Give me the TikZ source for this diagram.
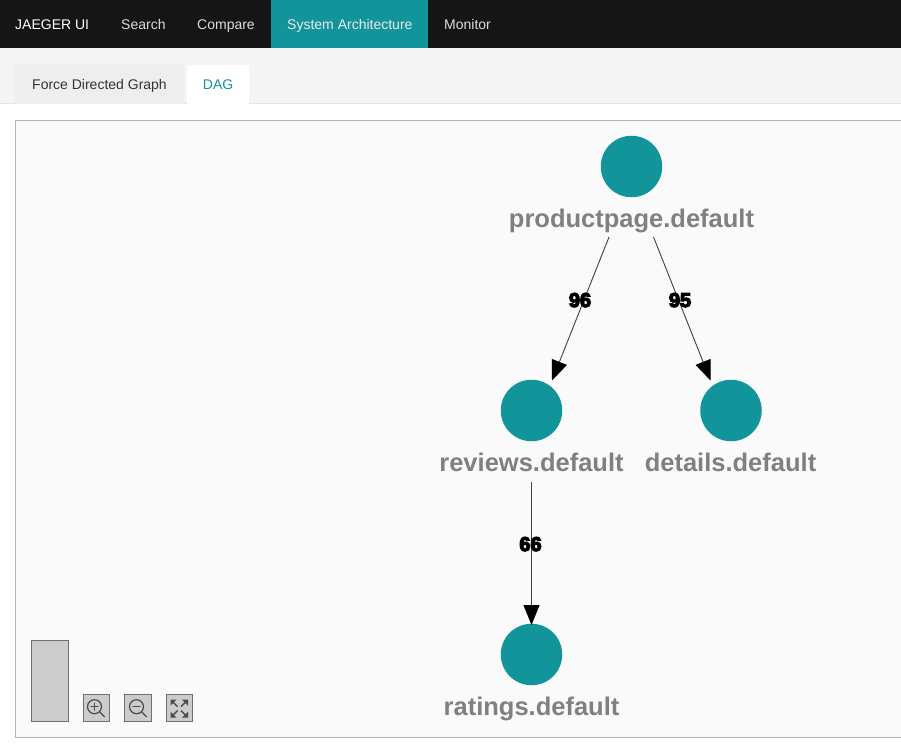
\documentclass[tikz,border=0pt]{standalone}
\usepackage{fontspec}
\setmainfont{Liberation Sans}
\newfontfamily\edgefont[FakeBold=6]{Liberation Sans Bold}
\usetikzlibrary{arrows.meta}
\definecolor{teal1}{HTML}{11949A}
\definecolor{navbg}{HTML}{151515}
\definecolor{subbg}{HTML}{F4F4F4}
\definecolor{tabbg}{HTML}{EEEEEE}
\definecolor{panelbg}{HTML}{FAFAFA}
\definecolor{panelline}{HTML}{B4B4B4}
\definecolor{navtext}{HTML}{DDDDDD}
\definecolor{ctlfill}{HTML}{CCCCCC}
\definecolor{ctlline}{HTML}{707070}
\definecolor{lblgray}{HTML}{808080}
\tikzset{
  x=1pt,y=-1pt,
  nav/.style={anchor=base west,inner sep=0pt,text=navtext,font=\fontsize{14}{16}\selectfont},
  graphnode/.style={circle,fill=teal1,draw=none,minimum size=61.5pt,inner sep=0pt},
  graphlabel/.style={anchor=base,inner sep=0pt,text=lblgray,font=\fontsize{25.5}{30}\selectfont\bfseries},
  edgeline/.style={draw=black!75,line width=0.9pt,-{Triangle[length=20pt,width=16pt,fill=black,color=black]}},
  edgelabel/.style={inner sep=0pt,anchor=base,text=black,font=\fontsize{20}{24}\selectfont\edgefont},
  ctl/.style={draw=ctlline,fill=ctlfill,line width=1pt,inner sep=0pt,outer sep=0pt,anchor=north west},
  ico/.style={draw=black!70,line width=1.2pt,line cap=round},
  icol/.style={draw=black!70,line width=1.4pt},
  icof/.style={fill=black!70},
}
\begin{document}
\begin{tikzpicture}
\useasboundingbox (0,0) rectangle (901,750);
\fill[white] (0,0) rectangle (901,750);
% header bars
\fill[navbg] (0,0) rectangle (901,48);
\fill[teal1] (271,0) rectangle (428,48);
\fill[subbg] (0,48) rectangle (901,103);
\draw[black!10,line width=0.8pt] (0,103.5) -- (901,103.5);
\fill[tabbg] (15,64) rectangle (184,104);
\fill[white] (187,65) rectangle (249,104);
\node[nav,text=white] (nj) at (15,29) {JAEGER UI};
\node[nav] (ns) at (121,29) {Search};
\node[nav] (nc) at (197,29) {Compare};
\node[nav,text=white!92!black] (na) at (287,29) {System Architecture};
\node[nav] (nm) at (444,29) {Monitor};
\node[nav,text=black!80] (tf) at (32,89) {Force Directed Graph};
\node[nav,text=teal1] (td) at (202.7,89) {DAG};
% panel
\fill[panelbg] (15.5,120.5) rectangle (901,737.5);
\draw[panelline,line width=1pt] (901,120.5) -- (15.5,120.5) -- (15.5,737.5) -- (901,737.5);
% graph nodes
\node[graphnode] (prod) at (631.5,166.5) {};
\node[graphnode] (rev) at (531.5,410.5) {};
\node[graphnode] (det) at (731,410.5) {};
\node[graphnode] (rat) at (531.5,654.5) {};
\node[graphlabel] (lprod) at (631.5,227) {productpage.default};
\node[graphlabel] (lrev) at (531.5,471) {reviews.default};
\node[graphlabel] (ldet) at (730.5,471) {details.default};
\node[graphlabel] (lrat) at (531.5,715) {ratings.default};
% connector ends
\coordinate (e1s) at (609,237);
\coordinate (e1t) at (552,380.5);
\coordinate (e2s) at (653.5,237);
\coordinate (e2t) at (710.5,380.5);
\coordinate (e3s) at (531.5,482);
\coordinate (e3t) at (531.5,625);
\draw[edgeline] (e1s) -- (e1t);
\draw[edgeline] (e2s) -- (e2t);
\draw[edgeline] (e3s) -- (e3t);
\node[edgelabel] (l96) at (580,307) {96};
\node[edgelabel] (l95) at (680,307) {95};
\node[edgelabel] (l66) at (530.5,551) {66};
% controls
\node[ctl,minimum width=37pt,minimum height=81pt] (slider) at (31.5,640.5) {};
\node[ctl,minimum width=26pt,minimum height=27pt] (zin) at (83.5,694.5) {};
\node[ctl,minimum width=27pt,minimum height=27pt] (zout) at (124.5,694.5) {};
\node[ctl,minimum width=26pt,minimum height=27pt] (zfit) at (166.5,694.5) {};
\draw[ico] (94.5,706.7) circle (7);
\draw[ico] (99.7,711.9) -- (104.5,716.7);
\draw[ico] (91,706.7) -- (98,706.7) (94.5,703.2) -- (94.5,710.2);
\draw[ico] (136.5,706.7) circle (7);
\draw[ico] (141.7,711.9) -- (146.5,716.7);
\draw[ico] (133,706.7) -- (140,706.7);
% fit-to-view icon: four corner arrows
\fill[icof] (170.5,699.5) -- (176.5,699.5) -- (170.5,705.5) -- cycle;
\draw[icol] (172,701) -- (177.5,706.5);
\fill[icof] (188,699.5) -- (182,699.5) -- (188,705.5) -- cycle;
\draw[icol] (186.5,701) -- (181,706.5);
\fill[icof] (170.5,717.5) -- (176.5,717.5) -- (170.5,711.5) -- cycle;
\draw[icol] (172,716) -- (177.5,710.5);
\fill[icof] (188,717.5) -- (182,717.5) -- (188,711.5) -- cycle;
\draw[icol] (186.5,716) -- (181,710.5);
\end{tikzpicture}
\end{document}
